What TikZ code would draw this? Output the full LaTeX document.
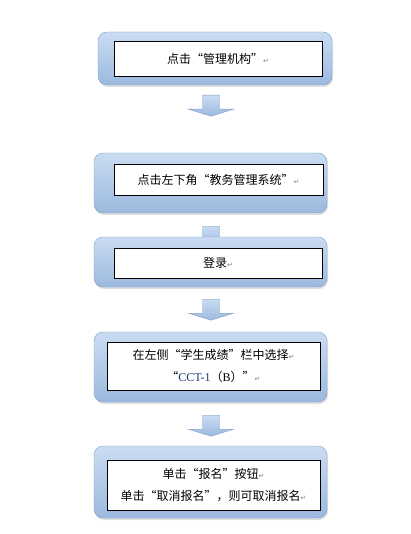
\documentclass[tikz,border=0pt]{standalone}
\usepackage{fontspec}
\newfontfamily\cjk{Noto Sans CJK SC}
\newfontfamily\symfont{DejaVu Sans}
\newfontfamily\latinserif{Liberation Serif}
\usepackage{tikz}
\usetikzlibrary{shapes,arrows,positioning,calc,shadows,backgrounds}

\definecolor{boxtop}{HTML}{CADCF2}
\definecolor{boxbottom}{HTML}{9BB9DE}
\definecolor{boxline}{HTML}{7F9FCA}
\definecolor{codeblue}{HTML}{1F3A7A}

% paragraph mark left by the word processor
\newcommand{\retmark}{{\symfont\color{gray}\fontsize{7}{8}\selectfont ↵}}

\begin{document}
\begin{tikzpicture}[x=1pt, y=-1pt,
    outer box/.style={rectangle, draw=boxline, rounded corners=9pt, top color=boxtop, bottom color=boxbottom,
        minimum width=233pt, drop shadow={opacity=0.25, shadow xshift=1pt, shadow yshift=-2pt}},
    inner box/.style={rectangle, draw=black, fill=white, inner sep=0pt, align=center,
        font=\cjk\fontsize{12}{22}\selectfont},
    pics/down arrow/.style={code={
        \draw[boxline, top color=boxtop, bottom color=boxbottom]
            (-8.5,0) -- (8.5,0) -- (8.5,14) -- (22.5,14) -- (0,21) -- (-22.5,14) -- (-8.5,14) -- cycle;
    }}
]
    \useasboundingbox (0,0) rectangle (410,534);

    % step boxes
    \node[outer box, minimum width=234pt, minimum height=53pt] (step1) at (215,58.5) {};
    \node[inner box, minimum width=208pt, minimum height=35pt] (text1) at (218,58.5) {点击“管理机构”\retmark};

    \node[outer box, minimum height=60pt] (step2) at (210.5,183) {};
    \node[inner box, minimum width=209pt, minimum height=31pt] (text2) at (218.5,179.5) {点击左下角“教务管理系统”\retmark};

    \node[outer box, minimum height=50pt] (step3) at (210.5,262) {};
    \node[inner box, minimum width=208pt, minimum height=30pt] (text3) at (218,263) {登录\retmark};

    \node[outer box, minimum height=70pt] (step4) at (210.5,367) {};
    \node[inner box, minimum width=213pt, minimum height=48pt] (text4) at (213.5,366)
        {在左侧“学生成绩”栏中选择\retmark\\ “{\latinserif\color{codeblue}CCT-1}（{\latinserif B}）”\retmark};

    \node[outer box, minimum height=72pt] (step5) at (210.5,482) {};
    \node[inner box, minimum width=213pt, minimum height=50pt] (text5) at (213.5,485)
        {单击“报名”按钮\retmark\\ 单击“取消报名”，则可取消报名\retmark};

    % block arrows between the steps
    \begin{scope}[on background layer]
        \pic at ($(step1.south)+(-4,10)$) {down arrow};
        \pic at ($(step2.south)+(0.5,13)$) {down arrow};
        \pic at ($(step3.south)+(0.5,12)$) {down arrow};
        \pic at ($(step4.south)+(0.5,13)$) {down arrow};
    \end{scope}
\end{tikzpicture}
\end{document}
